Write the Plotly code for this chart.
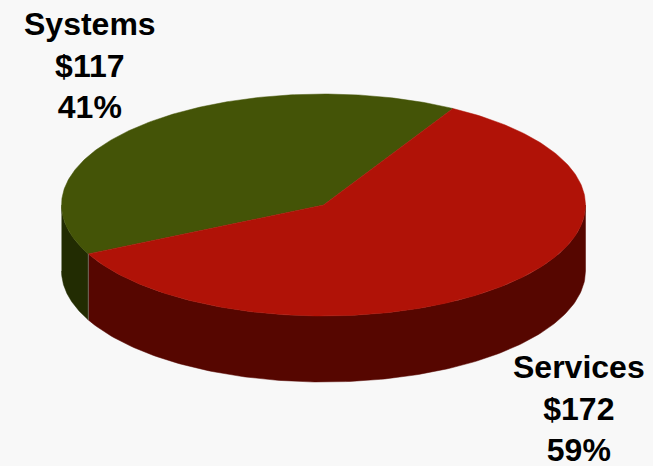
import numpy as np
import plotly.graph_objects as go

# Revenue split shown by the pie
categories = ["Systems", "Services"]
amounts = [117, 172]
percent_labels = ["41%", "59%"]
top_colors = ["#445407", "#b01207"]
side_colors = ["#222c02", "#560600"]

WIDTH, HEIGHT = 653, 466
CX, CY = 323.5, 205.0    # centre of the top face
RX, RY = 262.0, 111.0    # radii of the tilted disc
DEPTH = 66.0             # thickness of the disc
START_DEG = 60.4         # where the first slice begins, counter-clockwise


def rim(a0, a1, n=160):
    """Points on the top-face ellipse between two angles in degrees."""
    t = np.radians(np.linspace(a0, a1, n))
    return CX + RX * np.cos(t), CY - RY * np.sin(t)


# Slice angle ranges follow from the amounts
total = sum(amounts)
edges = START_DEG + np.cumsum([0] + amounts) / total * 360.0
spans = list(zip(edges[:-1], edges[1:]))

fig = go.Figure()

# Side wall: only the front half of the rim (180-360 degrees) is visible
for (a0, a1), colour, name in zip(spans, side_colors, categories):
    lo, hi = max(a0, 180.0), min(a1, 360.0)
    if lo >= hi:
        continue
    x, y = rim(lo, hi)
    fig.add_trace(go.Scatter(
        x=np.r_[x, x[::-1]], y=np.r_[y, y[::-1] + DEPTH],
        mode="lines", fill="toself", fillcolor=colour,
        line=dict(color=colour, width=0.5), name=name + " side",
        hoverinfo="skip", showlegend=False,
    ))

# Top face wedges
for (a0, a1), colour, name in zip(spans, top_colors, categories):
    x, y = rim(a0, a1, 240)
    fig.add_trace(go.Scatter(
        x=np.r_[CX, x, CX], y=np.r_[CY, y, CY],
        mode="lines", fill="toself", fillcolor=colour,
        line=dict(color=colour, width=0.5), name=name,
        hoverinfo="skip", showlegend=False,
    ))

# Faint seam where the two side walls meet
seam_x, seam_y = rim(spans[0][1], spans[0][1], 1)
fig.add_trace(go.Scatter(
    x=[seam_x[0], seam_x[0]], y=[seam_y[0], seam_y[0] + DEPTH],
    mode="lines", line=dict(color="#6e6a5c", width=1),
    hoverinfo="skip", showlegend=False,
))

# Slice captions
caption_pos = [(90, 65), (579, 408.5)]
for name, amount, pct, (px, py) in zip(categories, amounts, percent_labels, caption_pos):
    fig.add_annotation(
        x=px, y=py, xref="x", yref="y", showarrow=False, align="center",
        text=f"{name}<br>${amount}<br>{pct}",
        font=dict(family="Liberation Sans, Arial, sans-serif", size=32, color="#000000", weight="bold"),
    )

fig.update_layout(
    width=WIDTH, height=HEIGHT, margin=dict(l=0, r=0, t=0, b=0),
    paper_bgcolor="#f8f8f8", plot_bgcolor="#f8f8f8", showlegend=False,
    xaxis=dict(range=[0, WIDTH], visible=False, fixedrange=True),
    yaxis=dict(range=[HEIGHT, 0], visible=False, fixedrange=True),
)

fig.write_html("out.html", config={"displayModeBar": False})
